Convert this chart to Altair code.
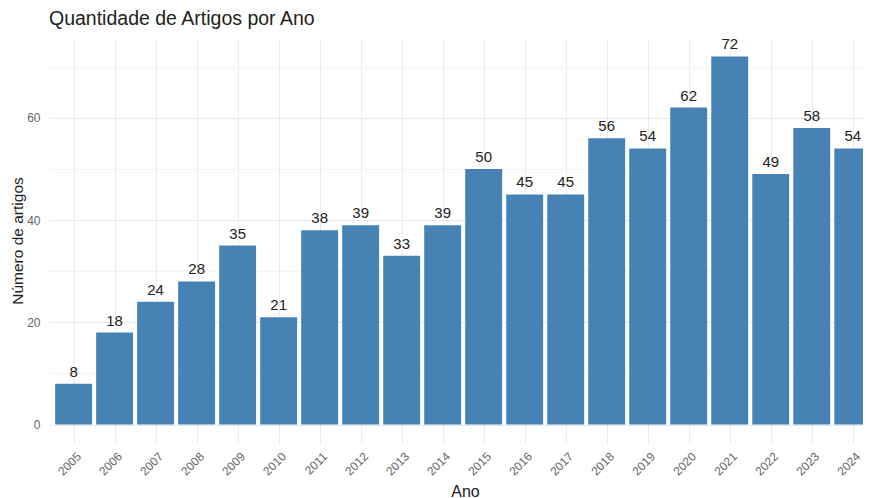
import altair as alt
import pandas as pd

anos = list(range(2005, 2025))
artigos = [8, 18, 24, 28, 35, 21, 38, 39, 33, 39, 50, 45, 45, 56, 54, 62, 72, 49, 58, 54]

df = pd.DataFrame({"ano": anos, "n": artigos})

FONT = "Liberation Sans"
xscale = alt.Scale(domain=[2004.4, 2024.25], nice=False, zero=False)
yscale = alt.Scale(domain=[-3.6, 75.6], nice=False, zero=False)

base = alt.Chart(df).transform_calculate(
    x0="datum.ano - 0.45", x1="datum.ano + 0.45"
)

bars = base.mark_bar(color="#4682B4", clip=True).encode(
    x=alt.X(
        "x0:Q",
        scale=xscale,
        title="Ano",
        axis=alt.Axis(
            values=anos,
            format="d",
            domain=False,
            ticks=False,
            labelAngle=-45,
            labelAlign="right",
            labelBaseline="middle",
            labelPadding=11,
            labelOffset=5,
            labelFontSize=12,
            labelColor="#666666",
            labelFont=FONT,
            gridColor="#ebebeb",
            titleFont=FONT,
            titleFontSize=16,
            titleFontWeight="normal",
            titleColor="#222222",
            titleX=416,
            titleY=53,
            titleAlign="center",
            titleBaseline="alphabetic",
            labelOverlap=False,
        ),
    ),
    x2="x1:Q",
    y=alt.Y(
        "n:Q",
        scale=yscale,
        title="Número de artigos",
        axis=alt.Axis(
            values=[0, 10, 20, 30, 40, 50, 60, 70],
            labelExpr="datum.value % 20 == 0 ? datum.label : ''",
            domain=False,
            ticks=False,
            labelPadding=9,
            labelFontSize=12,
            labelColor="#666666",
            labelFont=FONT,
            gridColor={
                "condition": {"test": "datum.value % 20 == 0", "value": "#e8e8e8"},
                "value": "#f4f4f4",
            },
            titleFont=FONT,
            titleFontSize=15.5,
            titleFontWeight="normal",
            titleColor="#222222",
            titlePadding=1,
        ),
    ),
    y2=alt.datum(0),
)

labels = base.mark_text(
    baseline="bottom", dy=-4, fontSize=15, font=FONT, color="#222222"
).encode(
    x=alt.X("ano:Q", scale=xscale),
    y=alt.Y("n:Q", scale=yscale),
    text="n:Q",
)

chart = (
    alt.layer(bars, labels)
    .properties(
        width=814,
        height=405,
        autosize=alt.AutoSizeParams(type="none"),
        padding={"left": 41, "top": 30, "right": 0, "bottom": 55},
        title=alt.Title(
            "Quantidade de Artigos por Ano",
            anchor="start",
            frame="group",
            fontSize=19.5,
            font=FONT,
            fontWeight="normal",
            color="#222222",
            offset=8,
        ),
    )
    .configure_view(stroke=None)
)

chart.save("out.html", embed_options={"renderer": "svg", "actions": False})
